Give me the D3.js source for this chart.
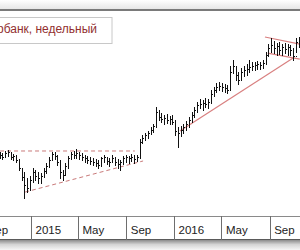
<!DOCTYPE html>
<html>
<head>
<meta charset="utf-8">
<script src="https://cdn.jsdelivr.net/npm/d3@7"></script>
<style>
  html, body { margin: 0; padding: 0; background: #fff; }
  svg { display: block; }
</style>
</head>
<body>
<svg id="chart"></svg>
<script>
// weekly OHLC, Sberbank (prices)
const opens  = [78.5,79.7,78.5,80.9,81.6,78.5,79.1,76.6,71.6,66.0, 61.1,59.2,64.2,69.1,66.6,65.4,66.6,69.7,72.9,76.6,
                80.3,79.1,75.3,69.1,67.3,72.9,77.8,80.3,79.7,80.9, 79.7,78.5,77.8,76.6,76.0,75.3,74.7,73.5,77.8,78.5,
                76.0,75.3,77.8,75.3,74.1,75.3,77.8,78.5,77.8,78.5, 77.2,78.5,87.8,90.3,92.1,93.4,95.2,97.7,106.4,103.3,
                102.1,102.7,101.4,102.1,100.2,94.6,93.4,95.2,97.1,99.0, 101.4,104.5,107.6,110.7,111.4,112.0,111.4,112.6,117.6,120.1,
                121.9,122.6,121.9,121.3,120.1,131.2,135.0,129.4,126.3,131.2, 132.5,133.1,134.4,135.0,135.6,136.2,135.6,136.8,141.8,146.2,
                148.0,146.2,147.4,144.9,146.8,145.5,146.8,144.9,141.2,149.9];
const highs  = [81.6,80.9,82.2,82.8,81.6,80.3,79.7,77.2,71.6,69.1, 65.4,66.6,71.6,70.4,69.1,68.5,71.6,74.7,78.5,81.6,
                81.6,79.7,76.6,70.4,74.7,79.1,81.6,82.2,83.4,81.6, 80.9,79.7,79.1,78.5,77.8,77.2,76.6,78.5,79.7,78.5,
                77.8,79.7,78.5,77.2,76.6,79.1,79.7,79.1,80.3,79.7, 79.7,89.6,92.1,93.4,94.6,97.1,99.0,109.5,107.6,105.8,
                104.5,105.2,103.9,104.5,101.4,97.1,97.7,99.0,100.8,103.3, 106.4,109.5,112.6,114.5,113.9,115.1,114.5,120.1,121.9,124.4,
                125.0,124.4,123.8,123.2,135.0,138.7,134.4,131.2,133.7,135.0, 136.2,138.7,137.5,137.5,138.1,137.5,138.7,143.7,148.6,152.4,
                150.5,149.3,149.9,148.6,149.3,148.6,148.0,146.2,152.4,153.0];
const lows   = [77.8,77.2,78.5,79.1,77.2,76.6,75.3,70.4,64.2,53.0, 56.7,58.0,62.9,64.2,62.3,62.3,66.0,68.5,72.2,76.6,
                77.2,73.5,65.4,64.2,67.3,71.6,77.2,77.8,77.8,77.2, 76.6,75.3,74.7,74.1,73.5,72.9,71.6,72.9,75.3,74.1,
                72.9,75.3,73.5,71.6,70.4,74.1,75.3,74.7,76.0,74.7, 76.0,77.8,87.1,89.0,90.3,92.7,94.0,97.1,101.4,100.2,
                99.0,99.6,99.0,99.0,92.1,84.7,91.5,93.4,95.2,97.1, 100.2,103.3,106.4,108.9,107.6,109.5,108.9,112.0,116.3,118.8,
                120.1,119.4,118.8,118.2,120.1,130.6,126.3,123.8,126.3,128.8, 129.4,131.2,132.5,132.5,133.1,133.1,133.7,136.2,141.2,143.7,
                143.0,141.8,142.4,141.8,143.0,141.8,141.8,138.7,143.7,146.8];
const closes = [79.7,78.5,80.9,81.6,78.5,79.1,76.6,71.6,66.0,61.1, 59.2,64.2,69.1,66.6,65.4,66.6,69.7,72.9,76.6,80.3,
                79.1,75.3,69.1,67.3,72.9,77.8,80.3,79.7,80.9,79.7, 78.5,77.8,76.6,76.0,75.3,74.7,73.5,77.8,78.5,76.0,
                75.3,77.8,75.3,74.1,75.3,77.8,78.5,77.8,78.5,77.2, 78.5,87.8,90.3,92.1,93.4,95.2,97.7,106.4,103.3,102.1,
                102.7,101.4,102.1,100.2,94.6,93.4,95.2,97.1,99.0,101.4, 104.5,107.6,110.7,111.4,112.0,111.4,112.6,117.6,120.1,121.9,
                122.6,121.9,121.3,120.1,131.2,135.0,129.4,126.3,131.2,132.5, 133.1,134.4,135.0,135.6,136.2,135.6,136.8,141.8,146.2,148.0,
                146.2,147.4,144.9,146.8,145.5,146.8,144.9,141.2,149.9,150.5];

// hand-drawn trend lines: [date, price] pairs
const resistance2015 = [["2014-10-14", 82.2], ["2015-09-23", 82.2]];
const support2015    = [["2014-12-17", 56.7], ["2015-10-14", 76.0]];
const uptrend2016    = [["2016-01-16", 94.6], ["2016-10-31", 140.0]];
const flagTop        = [["2016-08-20", 153.0], ["2016-11-17", 148.6]];
const flagBottom     = [["2016-08-27", 143.0], ["2016-11-17", 139.3]];

const tickDates  = ["2014-09-01", "2015-01-01", "2015-05-01", "2015-09-01", "2016-01-01", "2016-05-01", "2016-09-01"];
const tickLabels = ["Sep", "2015", "May", "Sep", "2016", "May", "Sep"];

const title = "Сбербанк, недельный";

const width = 300, height = 250;
const plotTop = 11, plotBottom = 216, axisBottom = 240;

const svg = d3.select("#chart")
    .attr("width", width)
    .attr("height", height)
    .attr("viewBox", [0, 0, width, height]);

const parse = d3.utcParse("%Y-%m-%d");
const weeks = d3.utcMonday.range(Date.UTC(2014, 9, 13), Date.UTC(2016, 10, 15));
const bars = weeks.map((d, i) => ({ date: d, o: opens[i], h: highs[i], l: lows[i], c: closes[i] }));

const x = d3.scaleUtc()
    .domain([parse("2014-09-01"), parse("2016-11-17")])
    .range([-16.8, 299.8]);

const y = d3.scaleLinear()
    .domain([53, 153])
    .range([198, 37]);

const defs = svg.append("defs");
defs.append("clipPath").attr("id", "plot-clip")
    .append("rect").attr("x", 0).attr("y", plotTop).attr("width", width).attr("height", plotBottom - plotTop);

const topGrad = defs.append("linearGradient").attr("id", "top-grad").attr("x1", 0).attr("x2", 0).attr("y1", 0).attr("y2", 1);
topGrad.append("stop").attr("offset", "0%").attr("stop-color", "#ffffff");
topGrad.append("stop").attr("offset", "100%").attr("stop-color", "#e4e4e4");

const botGrad = defs.append("linearGradient").attr("id", "bot-grad").attr("x1", 0).attr("x2", 0).attr("y1", 0).attr("y2", 1);
botGrad.append("stop").attr("offset", "0%").attr("stop-color", "#8c8c8c");
botGrad.append("stop").attr("offset", "45%").attr("stop-color", "#d4d4d4");
botGrad.append("stop").attr("offset", "100%").attr("stop-color", "#f6f6f6");

// frame pieces
svg.append("rect").attr("x", 0).attr("y", 0).attr("width", width).attr("height", 10).attr("fill", "url(#top-grad)");
svg.append("rect").attr("x", 0).attr("y", 9).attr("width", width).attr("height", 2).attr("fill", "#7a7a7a");

const plot = svg.append("g").attr("clip-path", "url(#plot-clip)");

// trend lines
const lineGen = d3.line().x(d => x(parse(d[0]))).y(d => y(d[1]));
plot.selectAll("path.dashed")
    .data([resistance2015, support2015])
    .join("path")
    .attr("d", lineGen)
    .attr("fill", "none")
    .attr("stroke", "#c97a7a")
    .attr("stroke-width", 1)
    .attr("stroke-dasharray", "4,3");

plot.selectAll("path.solid")
    .data([uptrend2016, flagTop, flagBottom])
    .join("path")
    .attr("d", lineGen)
    .attr("fill", "none")
    .attr("stroke", "#d98080")
    .attr("stroke-width", 1.2);

// OHLC bars
const bar = plot.append("g")
    .attr("stroke", "#111")
    .attr("stroke-width", 1)
    .attr("shape-rendering", "crispEdges")
    .selectAll("g")
    .data(bars)
    .join("g")
    .attr("transform", d => `translate(${Math.round(x(d.date)) + 0.5},0)`);

bar.append("line")
    .attr("y1", d => Math.round(y(d.h)))
    .attr("y2", d => Math.round(y(d.l)) + 1);
bar.append("line")
    .attr("x1", -1).attr("x2", 0)
    .attr("y1", d => Math.round(y(d.o)) + 0.5).attr("y2", d => Math.round(y(d.o)) + 0.5);
bar.append("line")
    .attr("x1", 0).attr("x2", 1.5)
    .attr("y1", d => Math.round(y(d.c)) + 0.5).attr("y2", d => Math.round(y(d.c)) + 0.5);

// title box (left part of the title runs off the picture, as in the source)
const tg = svg.append("g");
tg.append("rect")
    .attr("x", -2).attr("y", 17.5).attr("width", 114).attr("height", 26)
    .attr("fill", "#fff").attr("stroke", "#c8c8c8");
tg.append("text")
    .attr("x", 97).attr("y", 33)
    .attr("text-anchor", "end")
    .attr("font-family", "'Liberation Sans', Arial, sans-serif")
    .attr("font-size", 12)
    .attr("fill", "#922f2f")
    .text(title);

// time axis strip
svg.append("rect").attr("x", 0).attr("y", plotBottom).attr("width", width).attr("height", axisBottom - plotBottom)
    .attr("fill", "#fff");
svg.append("rect").attr("x", 0).attr("y", axisBottom).attr("width", width).attr("height", height - axisBottom)
    .attr("fill", "url(#bot-grad)");
svg.append("line").attr("x1", 0).attr("x2", width).attr("y1", plotBottom + 0.5).attr("y2", plotBottom + 0.5)
    .attr("stroke", "#8a8a8a");
svg.append("line").attr("x1", 0).attr("x2", width).attr("y1", axisBottom - 0.5).attr("y2", axisBottom - 0.5)
    .attr("stroke", "#5a5a5a");

const axis = d3.axisBottom(x)
    .tickValues(tickDates.map(parse))
    .tickFormat((d, i) => tickLabels[i])
    .tickSize(axisBottom - plotBottom)
    .tickPadding(0);

const ax = svg.append("g")
    .attr("transform", `translate(0,${plotBottom})`)
    .call(axis);
ax.select(".domain").remove();
ax.selectAll(".tick line")
    .attr("stroke", "#6e6e6e")
    .attr("shape-rendering", "crispEdges");
ax.selectAll(".tick text")
    .attr("text-anchor", "start")
    .attr("x", 4)
    .attr("y", 18)
    .attr("dy", 0)
    .attr("font-family", "'Liberation Sans', Arial, sans-serif")
    .attr("font-size", 11.5)
    .attr("fill", "#222");
</script>
</body>
</html>
